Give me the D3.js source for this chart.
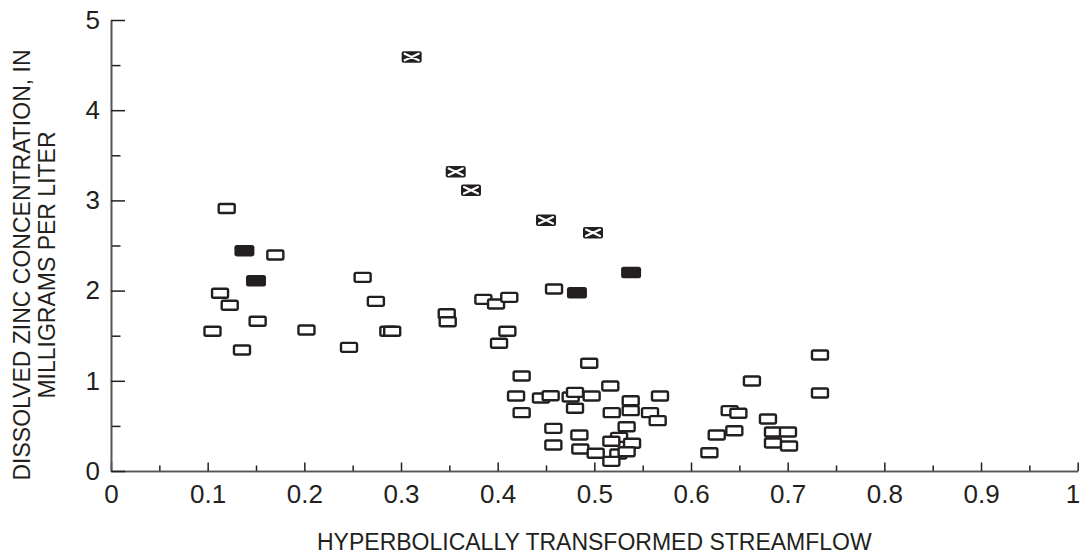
<!DOCTYPE html>
<html>
<head>
<meta charset="utf-8">
<script src="https://cdn.jsdelivr.net/npm/d3@7"></script>
<style>
  body { margin: 0; background: #fff; }
  svg { display: block; font-family: "Liberation Sans", Arial, sans-serif; }
</style>
</head>
<body>
<svg id="plot" width="1080" height="557"></svg>
<script>
// ---- data ----
const openX = [0.1197, 0.170, 0.1128, 0.1228, 0.1517, 0.105, 0.1355, 0.2022, 0.2603, 0.274,
  0.2869, 0.2909, 0.2462, 0.3473, 0.3483, 0.3852, 0.3983, 0.412, 0.41, 0.4014, 0.4583,
  0.4248, 0.419, 0.4248, 0.4448, 0.4548, 0.4755, 0.48, 0.4576, 0.4576, 0.4947, 0.5165,
  0.4972, 0.48, 0.5376, 0.5679, 0.518, 0.5376, 0.5576, 0.5655, 0.5334, 0.4845, 0.5256,
  0.539, 0.5176, 0.4855, 0.5014, 0.5248, 0.5176, 0.5334,
  0.663, 0.640, 0.649, 0.6448, 0.6266, 0.619,
  0.6796, 0.6848, 0.6848, 0.7003, 0.7014, 0.7334, 0.7334];
const openY = [2.911, 2.395, 1.97, 1.837, 1.66, 1.549, 1.341, 1.563, 2.147, 1.881,
  1.549, 1.549, 1.371, 1.744, 1.655, 1.903, 1.851, 1.925, 1.549, 1.416, 2.018,
  1.053, 0.831, 0.647, 0.809, 0.835, 0.82, 0.872, 0.473, 0.288, 1.194, 0.942,
  0.831, 0.695, 0.779, 0.831, 0.647, 0.669, 0.647, 0.558, 0.491, 0.399, 0.373,
  0.307, 0.329, 0.244, 0.196, 0.188, 0.107, 0.214,
  0.998, 0.669, 0.64, 0.447, 0.399, 0.203,
  0.576, 0.432, 0.31, 0.432, 0.277, 1.286, 0.865];

const filledX = [0.138, 0.150, 0.482, 0.538];
const filledY = [2.443, 2.11, 1.977, 2.20];

const crossX = [0.311, 0.3566, 0.3724, 0.45, 0.4986];
const crossY = [4.59, 3.318, 3.112, 2.779, 2.64];

const xMajor = [0, 0.1, 0.2, 0.3, 0.4, 0.5, 0.6, 0.7, 0.8, 0.9, 1];
const xMinor = [0.05, 0.15, 0.25, 0.35, 0.45, 0.55, 0.65, 0.75, 0.85, 0.95];
const yMajor = [0, 1, 2, 3, 4, 5];
const yMinor = [0.5, 1.5, 2.5, 3.5, 4.5];

const xLabel = "HYPERBOLICALLY TRANSFORMED STREAMFLOW";
const yLabel = ["DISSOLVED ZINC CONCENTRATION, IN", "MILLIGRAMS PER LITER"];

// ---- layout ----
const svg = d3.select('#plot');
const plotLeft = 111, plotRight = 1077.7, plotTop = 20, plotBottom = 471;

const xScale = d3.scaleLinear().domain([0, 1]).range([plotLeft, plotRight]);
const yScale = d3.scaleLinear().domain([0, 5]).range([plotBottom, plotTop]);

const ink = '#231f20';

// axes
const xMinorAxis = d3.axisBottom(xScale).tickValues(xMinor).tickSize(-5.5).tickSizeOuter(0).tickFormat('');
const xMajorAxis = d3.axisBottom(xScale).tickValues(xMajor).tickSize(-8.5).tickSizeOuter(0)
  .tickPadding(14).tickFormat(d => d === 0 || d === 1 ? d3.format('d')(d) : d3.format('.1f')(d));
const yMinorAxis = d3.axisLeft(yScale).tickValues(yMinor).tickSize(-9.5).tickSizeOuter(0).tickFormat('');
const yMajorAxis = d3.axisLeft(yScale).tickValues(yMajor).tickSize(-14).tickSizeOuter(0)
  .tickPadding(11).tickFormat(d3.format('d'));

const styleAxis = g => {
  g.selectAll('.domain').attr('stroke', '#555').attr('stroke-width', 1.6);
  g.selectAll('.tick line').attr('stroke', ink).attr('stroke-width', 1.5);
  g.selectAll('.tick text').attr('fill', ink).attr('font-size', 26)
    .attr('font-family', '"Liberation Sans", Arial, sans-serif');
};

svg.append('g').attr('transform', `translate(0, ${plotBottom})`).call(xMinorAxis).call(styleAxis);
const xAxisG = svg.append('g').attr('transform', `translate(0, ${plotBottom})`).call(xMajorAxis).call(styleAxis);
svg.append('g').attr('transform', `translate(${plotLeft}, 0)`).call(yMinorAxis).call(styleAxis);
svg.append('g').attr('transform', `translate(${plotLeft}, 0)`).call(yMajorAxis).call(styleAxis);

// the last label sits against the right edge of the figure
xAxisG.selectAll('.tick text').filter(d => d === 1)
  .attr('text-anchor', 'end')
  .attr('dx', 2);

// axis titles
svg.append('text')
  .attr('x', (plotLeft + plotRight) / 2)
  .attr('y', 550)
  .attr('text-anchor', 'middle')
  .attr('font-size', 23)
  .attr('fill', ink)
  .text(xLabel);

yLabel.forEach((line, i) => {
  svg.append('text')
    .attr('transform', `translate(${30 + i * 25}, 265) rotate(-90)`)
    .attr('text-anchor', 'middle')
    .attr('font-size', 23)
    .attr('fill', ink)
    .text(line);
});

// markers
const openW = 16, openH = 9;
const boxW = 20, boxH = 11.5;

const openData = openX.map((x, i) => ({x: x, y: openY[i]}));
const filledData = filledX.map((x, i) => ({x: x, y: filledY[i]}));
const crossData = crossX.map((x, i) => ({x: x, y: crossY[i]}));

svg.append('g').selectAll('rect').data(openData)
  .enter().append('rect')
    .attr('x', d => xScale(d.x) - openW / 2)
    .attr('y', d => yScale(d.y) - openH / 2)
    .attr('width', openW)
    .attr('height', openH)
    .attr('rx', 1.5)
    .attr('fill', '#fff')
    .attr('stroke', ink)
    .attr('stroke-width', 2.4);

svg.append('g').selectAll('rect').data(filledData)
  .enter().append('rect')
    .attr('x', d => xScale(d.x) - boxW / 2)
    .attr('y', d => yScale(d.y) - boxH / 2)
    .attr('width', boxW)
    .attr('height', boxH)
    .attr('rx', 2.5)
    .attr('fill', ink);

const crossG = svg.append('g').selectAll('g').data(crossData)
  .enter().append('g')
    .attr('transform', d => `translate(${xScale(d.x)}, ${yScale(d.y)})`);

crossG.append('rect')
  .attr('x', -boxW / 2)
  .attr('y', -boxH / 2)
  .attr('width', boxW)
  .attr('height', boxH)
  .attr('rx', 2)
  .attr('fill', ink);

crossG.append('path')
  .attr('d', `M${-boxW / 2 + 3},${-boxH / 2 + 2.5}L${boxW / 2 - 3},${boxH / 2 - 2.5}M${-boxW / 2 + 3},${boxH / 2 - 2.5}L${boxW / 2 - 3},${-boxH / 2 + 2.5}`)
  .attr('stroke', '#fff')
  .attr('stroke-width', 2.2)
  .attr('stroke-linecap', 'round');
</script>
</body>
</html>
